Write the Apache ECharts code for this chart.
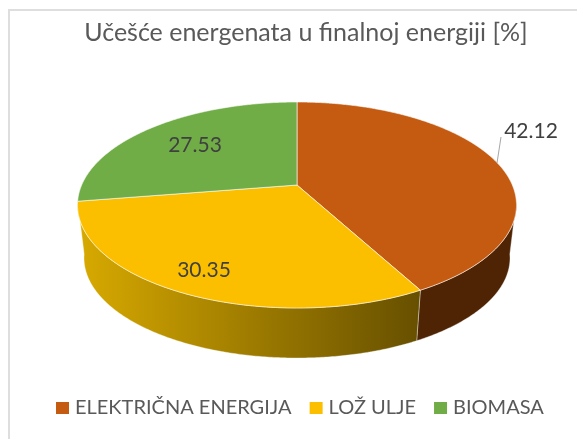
<!DOCTYPE html>
<html>
<head>
<meta charset="utf-8">
<style>html,body{margin:0;padding:0;background:#fff}#c{width:577px;height:439px}</style>
<script src="https://cdn.jsdelivr.net/npm/echarts@6/dist/echarts.min.js"></script>
</head>
<body>
<div id="c"></div>
<script>
const titleText = 'Učešće energenata u finalnoj energiji [%]';
const categories = ['ELEKTRIČNA ENERGIJA', 'LOŽ ULJE', 'BIOMASA'];
const values = [42.12, 30.35, 27.53];
const colors = ['#C55A11', '#FBBF00', '#70AD47'];
const wallFills = [
  ['#4F2404', '#4F2404'],
  ['#664F00', '#D8AA00'],
  ['#4A7030', '#4A7030']
];

// Layout of the tilted disc
const TOP = {cx: 297, cy: 205, rx: 219.5, ry: 103};
const BASE = {cx: 297, cy: 258, rx: 213, ry: 100};
const TILT = 0.194;
const LABEL_POS = [[531, 131], [204, 270], [195, 145]];
const LEADER = [[497, 163], [501, 137]];

const total = values.reduce((a, b) => a + b, 0);
let run = 0;
const spans = values.map(v => { const s = [run / total * 360, (run + v) / total * 360]; run += v; return s; });

// Circle angle (clockwise from 12 o'clock) to normalised tilted-ellipse coordinates
function project(deg) {
  const t = deg * Math.PI / 180, X = Math.sin(t), Y = Math.cos(t);
  const d = 1 + TILT * Y;
  return [X * Math.sqrt(1 - TILT * TILT) / d, (Y + TILT) / d];
}
const onto = (e, p) => [e.cx + p[0] * e.rx, e.cy - p[1] * e.ry];
const apex = onto(TOP, [0, TILT]);

function renderSlice(idx) {
  return function () {
    const [a, b] = spans[idx];
    const arc = [];
    for (let d = a; d < b; d += 0.5) arc.push(project(d));
    arc.push(project(b));
    const children = [];

    const low = arc.filter(p => p[1] <= 0.04);
    if (low.length > 1 && idx !== 2) {
      const wall = low.map(p => onto(TOP, p)).concat(low.slice().reverse().map(p => onto(BASE, p)));
      const stops = wallFills[idx];
      children.push({
        type: 'polygon',
        shape: {points: wall},
        style: {
          fill: {type: 'linear', x: 1, y: 0, x2: 0, y2: 0, colorStops: [
            {offset: 0, color: stops[0]}, {offset: 1, color: stops[1]}]},
          stroke: 'rgba(255,255,255,0.45)', lineWidth: 0.8
        }
      });
    }
    children.push({
      type: 'polygon',
      shape: {points: [apex].concat(arc.map(p => onto(TOP, p)))},
      style: {fill: colors[idx], stroke: 'rgba(255,255,255,0.65)', lineWidth: 0.9}
    });
    if (idx === 0) {
      children.push({
        type: 'line',
        shape: {x1: LEADER[0][0], y1: LEADER[0][1], x2: LEADER[1][0], y2: LEADER[1][1]},
        style: {stroke: '#A6A6A6', lineWidth: 1}
      });
    }
    children.push({
      type: 'text', z2: 10,
      style: {
        x: LABEL_POS[idx][0], y: LABEL_POS[idx][1], text: values[idx].toFixed(2),
        fill: '#404040', font: '21px Lato', align: 'center', verticalAlign: 'middle'
      }
    });
    return {type: 'group', children};
  };
}

const chart = echarts.init(document.getElementById('c'), null, {renderer: 'canvas'});
chart.setOption({
  animation: false,
  backgroundColor: '#fff',
  title: {
    text: titleText, left: 301, top: 15, textAlign: 'center',
    textStyle: {color: '#595959', fontFamily: 'Lato', fontSize: 25, fontWeight: 'normal'}
  },
  legend: {
    data: categories, left: 51, top: 393, icon: 'rect',
    itemWidth: 13, itemHeight: 12, itemGap: 18, selectedMode: false,
    textStyle: {color: '#595959', fontFamily: 'Lato', fontSize: 20, padding: [0, 0, 0, 1]}
  },
  graphic: [{
    type: 'rect', silent: true, z: -1,
    shape: {x: 9, y: 10, width: 620, height: 480},
    style: {fill: 'none', stroke: '#DEDEDE', lineWidth: 2}
  }],
  series: categories.map((name, i) => ({
    type: 'custom', name, coordinateSystem: 'none',
    itemStyle: {color: colors[i]},
    data: [[values[i]]],
    renderItem: renderSlice(i)
  }))
});
</script>
</body>
</html>
